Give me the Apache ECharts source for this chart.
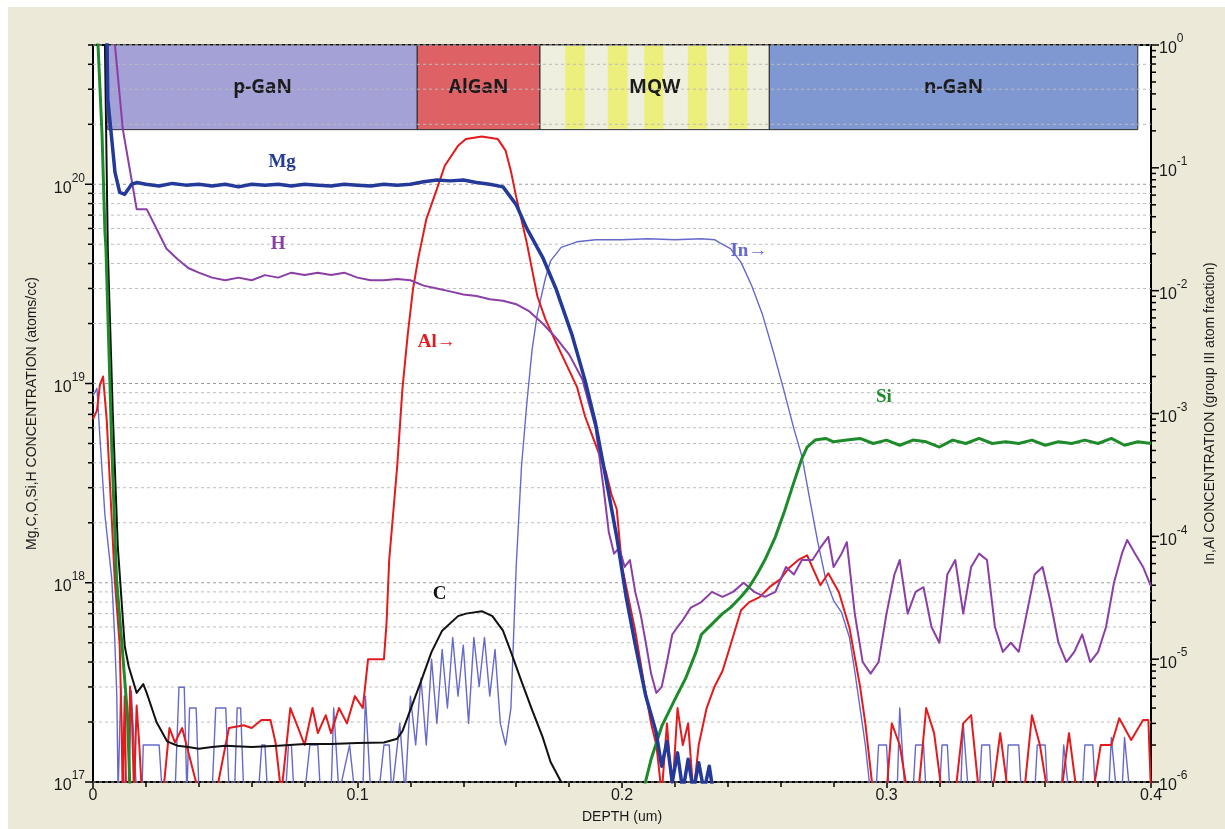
<!DOCTYPE html>
<html><head><meta charset="utf-8">
<script src="https://cdn.jsdelivr.net/npm/echarts@6/dist/echarts.min.js"></script>
<style>
html,body{margin:0;padding:0;background:#ffffff;width:1225px;height:829px;overflow:hidden;}
#c{position:absolute;left:8px;top:7px;width:1217px;height:822px;}
</style></head><body><div id="c"></div>
<script>
// ---------- data (depth in um, concentration) ----------
const xTickLabels = ['0','0.1','0.2','0.3','0.4'];
const layerNames  = ['p-GaN','AlGaN','MQW','n-GaN'];
const layerStart  = [0.0056, 0.1226, 0.1690, 0.2557];
const layerEnd    = [0.1226, 0.1690, 0.2557, 0.3950];
const mqwWellStart = [0.1785, 0.1946, 0.2084, 0.2249, 0.2403];
const mqwWellEnd   = [0.1859, 0.2021, 0.2156, 0.2320, 0.2474];

const mgData = [[0,3e21],[0.003,1.5e21],[0.0053,5e20],[0.0056,2.66e20],[0.0071,1.68e20],[0.0083,1.15e20],[0.0101,9.1e19],[0.012,8.9e19],[0.0146,1e20],[0.0165,1.02e20],[0.02,1.0e20],[0.025,0.98e20],[0.03,1.01e20],[0.035,0.99e20],[0.04,1.0e20],[0.045,0.98e20],[0.05,1.0e20],[0.055,0.97e20],[0.06,1.0e20],[0.065,0.99e20],[0.07,1.0e20],[0.075,0.98e20],[0.08,1.0e20],[0.085,0.99e20],[0.09,0.98e20],[0.095,1.0e20],[0.1,0.99e20],[0.105,0.98e20],[0.11,1.0e20],[0.115,0.99e20],[0.12,1.0e20],[0.125,1.03e20],[0.13,1.05e20],[0.135,1.04e20],[0.14,1.05e20],[0.145,1.02e20],[0.15,1.0e20],[0.155,9.7e19],[0.16,7.9e19],[0.164,6e19],[0.17,4.3e19],[0.175,3e19],[0.181,1.77e19],[0.186,1.04e19],[0.19,6.3e18],[0.194,3.3e18],[0.198,1.7e18],[0.2015,8.6e17],[0.205,4.9e17],[0.209,2.7e17],[0.2128,1.8e17],[0.215,1.2e17],[0.217,1.6e17],[0.219,1.0e17],[0.221,1.4e17],[0.223,0.9e17],[0.225,1.3e17],[0.227,0.9e17],[0.229,1.25e17],[0.231,0.9e17],[0.233,1.2e17],[0.235,0.8e17]];

const hData = [[0.0075,1e21],[0.0083,5e20],[0.0113,1.88e20],[0.015,9.8e19],[0.0165,7.5e19],[0.0203,7.5e19],[0.0278,4.75e19],[0.032,4.2e19],[0.036,3.8e19],[0.04,3.6e19],[0.045,3.4e19],[0.05,3.3e19],[0.055,3.4e19],[0.06,3.3e19],[0.065,3.5e19],[0.07,3.4e19],[0.075,3.6e19],[0.08,3.5e19],[0.085,3.6e19],[0.09,3.5e19],[0.095,3.6e19],[0.1,3.4e19],[0.105,3.3e19],[0.11,3.3e19],[0.115,3.35e19],[0.12,3.3e19],[0.125,3.1e19],[0.13,3.0e19],[0.135,2.9e19],[0.14,2.8e19],[0.145,2.75e19],[0.15,2.65e19],[0.155,2.6e19],[0.16,2.5e19],[0.165,2.3e19],[0.17,2.0e19],[0.175,1.7e19],[0.18,1.4e19],[0.185,1.05e19],[0.19,6e18],[0.193,3e18],[0.195,1.8e18],[0.197,1.4e18],[0.199,1.5e18],[0.201,1.2e18],[0.203,1.3e18],[0.205,9e17],[0.207,7e17],[0.209,5e17],[0.211,3.5e17],[0.213,2.8e17],[0.215,3e17],[0.217,4e17],[0.219,5.5e17],[0.221,6e17],[0.223,6.5e17],[0.226,7.5e17],[0.23,8e17],[0.234,9e17],[0.238,8.5e17],[0.242,9e17],[0.246,1e18],[0.25,9e17],[0.254,8.5e17],[0.258,9e17],[0.262,1.2e18],[0.265,1.1e18],[0.268,1.3e18],[0.272,1.3e18],[0.275,1.5e18],[0.278,1.7e18],[0.28,1.2e18],[0.283,1.4e18],[0.285,1.6e18],[0.288,7e17],[0.291,4e17],[0.294,3.5e17],[0.297,4e17],[0.3,7e17],[0.303,1.1e18],[0.305,1.3e18],[0.308,7e17],[0.311,9e17],[0.314,9.5e17],[0.317,6e17],[0.32,5e17],[0.323,1.1e18],[0.326,1.3e18],[0.329,7e17],[0.332,1.2e18],[0.335,1.4e18],[0.338,1.3e18],[0.341,6e17],[0.344,4.5e17],[0.347,5e17],[0.35,4.5e17],[0.353,7e17],[0.356,1.1e18],[0.359,1.2e18],[0.362,8e17],[0.365,5e17],[0.368,4e17],[0.371,4.5e17],[0.374,5.5e17],[0.377,4e17],[0.38,4.5e17],[0.383,6e17],[0.386,1e18],[0.389,1.4e18],[0.391,1.64e18],[0.394,1.4e18],[0.397,1.2e18],[0.4,9.6e17]];

const siData = [[0,3e21],[0.0019,5e20],[0.0034,1.8e20],[0.0045,5.8e19],[0.0049,4.75e19],[0.0071,4.8e18],[0.0089,1.04e18],[0.011,4.8e17],[0.013,2.2e17],[0.0139,1e17],[0.015,7e16],[0.1,5e16],[0.208,9e16],[0.211,1.3e17],[0.215,1.9e17],[0.22,2.6e17],[0.224,3.3e17],[0.228,4.5e17],[0.23,5.5e17],[0.234,6.2e17],[0.238,7e17],[0.241,7.5e17],[0.245,8.5e17],[0.248,9.5e17],[0.251,1.1e18],[0.254,1.3e18],[0.258,1.7e18],[0.2615,2.3e18],[0.265,3.2e18],[0.268,4.2e18],[0.27,4.8e18],[0.273,5.2e18],[0.277,5.3e18],[0.28,5.1e18],[0.285,5.2e18],[0.29,5.3e18],[0.295,5.0e18],[0.3,5.2e18],[0.305,4.9e18],[0.31,5.2e18],[0.315,5.1e18],[0.32,4.8e18],[0.325,5.2e18],[0.33,5.0e18],[0.335,5.3e18],[0.34,5.0e18],[0.345,5.1e18],[0.35,5.0e18],[0.355,5.2e18],[0.36,4.9e18],[0.365,5.1e18],[0.37,5.0e18],[0.375,5.2e18],[0.38,5.0e18],[0.385,5.3e18],[0.39,4.9e18],[0.395,5.1e18],[0.4,5.0e18]];

const cData = [[0,3e21],[0.0045,5e20],[0.0056,4.75e19],[0.0075,7e18],[0.0094,1.5e18],[0.012,4.8e17],[0.0135,3.8e17],[0.0165,2.8e17],[0.019,3.1e17],[0.0203,2.8e17],[0.024,2e17],[0.028,1.6e17],[0.032,1.52e17],[0.036,1.5e17],[0.04,1.47e17],[0.045,1.5e17],[0.05,1.52e17],[0.06,1.5e17],[0.07,1.52e17],[0.08,1.55e17],[0.09,1.55e17],[0.1,1.57e17],[0.11,1.58e17],[0.115,1.65e17],[0.117,1.8e17],[0.121,2.5e17],[0.124,3.2e17],[0.128,4.5e17],[0.132,5.75e17],[0.138,6.8e17],[0.141,7e17],[0.147,7.2e17],[0.151,6.8e17],[0.155,5.75e17],[0.158,4.5e17],[0.162,3.2e17],[0.166,2.3e17],[0.17,1.68e17],[0.173,1.26e17],[0.177,1e17],[0.18,8e16]];

const alData = [[0,9e-4],[0.0015,1.06e-3],[0.0026,1.7e-3],[0.0038,2.0e-3],[0.0052,8.8e-4],[0.007,1.5e-4],[0.0082,4.5e-5],[0.0101,1.3e-5],[0.0108,3e-6],[0.0112,8e-7],[0.012,5e-6],[0.0125,8e-7],[0.0135,8e-7],[0.014,6e-6],[0.0148,3e-6],[0.0155,8e-7],[0.0165,4.2e-6],[0.0175,2e-6],[0.0185,8e-7],[0.0265,8e-7],[0.0289,2.75e-6],[0.031,2.1e-6],[0.0337,2.75e-6],[0.0401,8e-7],[0.0465,8e-7],[0.0514,2.75e-6],[0.057,2.9e-6],[0.06,2.75e-6],[0.0637,3.2e-6],[0.0671,3.2e-6],[0.069,2.1e-6],[0.0712,8e-7],[0.0746,4e-6],[0.0776,2.75e-6],[0.08,2e-6],[0.083,4e-6],[0.085,2.5e-6],[0.088,3.5e-6],[0.09,2.5e-6],[0.093,4e-6],[0.096,3e-6],[0.099,5e-6],[0.102,4e-6],[0.104,1e-5],[0.11,1e-5],[0.111,2e-5],[0.112,6.5e-5],[0.115,3.7e-4],[0.117,1.6e-3],[0.119,4.4e-3],[0.121,1.04e-2],[0.123,1.85e-2],[0.126,3.8e-2],[0.13,6.7e-2],[0.133,0.104],[0.138,0.151],[0.141,0.172],[0.147,0.18],[0.153,0.172],[0.156,0.138],[0.158,9.4e-2],[0.16,5.8e-2],[0.164,2.45e-2],[0.168,9e-3],[0.171,5.9e-3],[0.175,3.8e-3],[0.179,2.5e-3],[0.183,1.64e-3],[0.186,9.5e-4],[0.19,5.6e-4],[0.194,3.3e-4],[0.196,2.2e-4],[0.198,1.67e-4],[0.2,5.7e-5],[0.205,1.7e-5],[0.209,5.2e-6],[0.211,3e-6],[0.213,2e-6],[0.215,8e-7],[0.217,3e-6],[0.219,8e-7],[0.221,4e-6],[0.223,2e-6],[0.225,3e-6],[0.227,8e-7],[0.229,2e-6],[0.232,4e-6],[0.235,6e-6],[0.238,8e-6],[0.241,1.3e-5],[0.245,2.5e-5],[0.248,2.9e-5],[0.252,3.2e-5],[0.256,3.9e-5],[0.26,4.5e-5],[0.263,5.5e-5],[0.267,6.5e-5],[0.27,7e-5],[0.273,5e-5],[0.275,4e-5],[0.278,5e-5],[0.282,3.5e-5],[0.286,1.8e-5],[0.29,6e-6],[0.292,3e-6],[0.295,8e-7],[0.3,8e-7],[0.302,3e-6],[0.305,2e-6],[0.308,8e-7],[0.312,8e-7],[0.315,4e-6],[0.318,2.5e-6],[0.321,8e-7],[0.326,8e-7],[0.329,3e-6],[0.332,3.5e-6],[0.335,8e-7],[0.34,8e-7],[0.343,2.5e-6],[0.346,8e-7],[0.352,8e-7],[0.355,3.5e-6],[0.358,2e-6],[0.361,8e-7],[0.366,8e-7],[0.369,2.5e-6],[0.372,8e-7],[0.378,8e-7],[0.381,2e-6],[0.385,2e-6],[0.388,3.3e-6],[0.3925,2.2e-6],[0.397,3.2e-6],[0.399,3.2e-6],[0.4,8e-7]];

const inData = [[0,1.4e-3],[0.0015,1.6e-3],[0.0025,7e-4],[0.0045,1.5e-4],[0.0071,4.5e-5],[0.0082,1.5e-5],[0.009,5e-6],[0.0095,8e-7],[0.0105,6e-6],[0.011,2e-6],[0.012,8e-7],[0.0135,8e-7],[0.0145,5.5e-6],[0.0155,2e-6],[0.0165,8e-7],[0.0185,8e-7],[0.019,2e-6],[0.025,2e-6],[0.0262,8e-7],[0.031,8e-7],[0.0325,5.9e-6],[0.0345,5.9e-6],[0.0355,8e-7],[0.0365,4e-6],[0.039,4e-6],[0.0401,8e-7],[0.045,8e-7],[0.0464,4e-6],[0.0502,4e-6],[0.0515,8e-7],[0.0535,8e-7],[0.0545,4e-6],[0.0558,4e-6],[0.057,8e-7],[0.0625,8e-7],[0.0638,2e-6],[0.065,2e-6],[0.066,8e-7],[0.0728,8e-7],[0.0739,2e-6],[0.075,2e-6],[0.076,8e-7],[0.08,8e-7],[0.082,2e-6],[0.085,2e-6],[0.086,8e-7],[0.09,8e-7],[0.091,4e-6],[0.093,8e-7],[0.097,2e-6],[0.099,8e-7],[0.102,8e-7],[0.103,5e-6],[0.105,8e-7],[0.108,8e-7],[0.11,2e-6],[0.112,2e-6],[0.113,8e-7],[0.116,3e-6],[0.118,8e-7],[0.12,5e-6],[0.122,2e-6],[0.124,7e-6],[0.126,2e-6],[0.128,1e-5],[0.13,3e-6],[0.132,1.2e-5],[0.134,4e-6],[0.136,1.5e-5],[0.138,5e-6],[0.14,1.3e-5],[0.142,3e-6],[0.144,1.5e-5],[0.146,6e-6],[0.148,1.5e-5],[0.15,5e-6],[0.152,1.2e-5],[0.154,3e-6],[0.156,2e-6],[0.158,4e-6],[0.16,5.7e-5],[0.162,3.7e-4],[0.164,1.2e-3],[0.166,3.3e-3],[0.168,6.5e-3],[0.171,1.25e-2],[0.173,1.75e-2],[0.177,2.25e-2],[0.183,2.5e-2],[0.19,2.6e-2],[0.2,2.6e-2],[0.21,2.65e-2],[0.22,2.6e-2],[0.23,2.65e-2],[0.235,2.6e-2],[0.237,2.45e-2],[0.241,2.2e-2],[0.245,1.7e-2],[0.249,1.1e-2],[0.253,6.5e-3],[0.257,3.3e-3],[0.261,1.6e-3],[0.265,7.5e-4],[0.268,4.5e-4],[0.271,2e-4],[0.274,9e-5],[0.277,4.5e-5],[0.28,3e-5],[0.283,2.4e-5],[0.286,1.5e-5],[0.288,8e-6],[0.29,4e-6],[0.292,2e-6],[0.294,8e-7],[0.296,8e-7],[0.297,2e-6],[0.3,2e-6],[0.301,8e-7],[0.304,8e-7],[0.305,4e-6],[0.307,8e-7],[0.31,8e-7],[0.311,2e-6],[0.314,2e-6],[0.315,8e-7],[0.32,8e-7],[0.321,2e-6],[0.323,2e-6],[0.324,8e-7],[0.328,8e-7],[0.329,3e-6],[0.331,8e-7],[0.335,8e-7],[0.336,2e-6],[0.339,2e-6],[0.34,8e-7],[0.345,8e-7],[0.346,2e-6],[0.35,2e-6],[0.351,8e-7],[0.356,8e-7],[0.357,2e-6],[0.36,2e-6],[0.361,8e-7],[0.366,8e-7],[0.367,2e-6],[0.369,8e-7],[0.374,8e-7],[0.375,2e-6],[0.378,2e-6],[0.379,8e-7],[0.384,8e-7],[0.385,2.3e-6],[0.387,8e-7],[0.389,8e-7],[0.39,2.3e-6],[0.392,8e-7],[0.4,8e-7]];

// curve labels: text, depth, left-axis value
const curveLabelText  = ['Mg','H','Al\u2192','In\u2192','Si','C'];
const curveLabelDepth = [0.0715, 0.070, 0.130, 0.248, 0.299, 0.131];
const curveLabelValue = [1.29e20, 5.0e19, 1.62e19, 4.6e19, 8.5e18, 8.8e17];

// ---------- chart ----------
const L_MIN = 1e17, L_MAX = 5e20, R_MIN = 1e-6, R_MAX = 1;
const BAND_BOTTOM = 1.88e20;
const layerColors = ['#A3A1D5','#DE6165','#EEEFDF','#8098D2'];
const wellColor = '#EDEF7C';
const curveColors = ['#233A9A','#8B3FA6','#E41A1C','#6569CB','#1E8B2A','#111111'];
const FONT = '"Liberation Sans", Arial, sans-serif';

function supFmt(v){
  const lg = Math.log10(v), e = Math.round(lg);
  if (Math.abs(lg - e) > 1e-6) return '';
  return '{b|10}{s|' + e + '}';
}
const supRich = {
  b:{fontSize:16, fontFamily:FONT, color:'#1a1a1a', lineHeight:24, verticalAlign:'bottom'},
  s:{fontSize:12, fontFamily:FONT, color:'#1a1a1a', lineHeight:12, verticalAlign:'top'}
};

const leftTicks = [];
for (let d = 17; d <= 20; d++) for (let m = 1; m <= 9; m++) {
  const v = m * Math.pow(10, d);
  if (v >= L_MIN * 0.999 && v <= L_MAX * 1.001) leftTicks.push([m === 1 ? 1 : 0, v]);
}
const rightTicks = [];
for (let d = -6; d <= 0; d++) for (let m = 1; m <= 9; m++) {
  const v = m * Math.pow(10, d);
  if (v >= R_MIN * 0.999 && v <= R_MAX * 1.001) rightTicks.push([m === 1 ? 1 : 0, v]);
}

const chart = echarts.init(document.getElementById('c'), null, {renderer:'canvas'});
const lineSeries = (name, data, color, width, yIdx, z) => ({
  type:'line', name, data, xAxisIndex:0, yAxisIndex:yIdx, showSymbol:false, symbol:'none',
  lineStyle:{color, width, join:'round'}, clip:true, z, animation:false
});

chart.setOption({
  backgroundColor:'#ECE9D8',
  animation:false,
  grid:{left:85, right:65, top:38, bottom:42, show:true, backgroundColor:'#ffffff', borderColor:'#000', borderWidth:2, containLabel:false},
  xAxis:{
    type:'value', min:0, max:0.4, interval:0.1,
    name:'DEPTH (um)', nameLocation:'middle', nameGap:28,
    nameTextStyle:{fontFamily:FONT, fontSize:14, color:'#1a1a1a'},
    axisLine:{show:true, lineStyle:{color:'#000', width:2}},
    axisTick:{show:true, inside:false, length:6, lineStyle:{color:'#000', width:1.5}},
    minorTick:{show:true, splitNumber:5, length:5, lineStyle:{color:'#000', width:1.5}},
    splitLine:{show:false},
    axisLabel:{fontFamily:FONT, fontSize:16, color:'#1a1a1a', margin:6,
      formatter:(v)=>{const i=Math.round(v*10); return Math.abs(v*10-i)<1e-6 ? xTickLabels[i] : '';}}
  },
  yAxis:[{
    type:'log', logBase:10, min:L_MIN, max:L_MAX, position:'left',
    name:'Mg,C,O,Si,H CONCENTRATION (atoms/cc)', nameLocation:'middle', nameGap:54, nameRotate:90,
    nameTextStyle:{fontFamily:FONT, fontSize:14, color:'#1a1a1a'},
    axisLine:{show:true, lineStyle:{color:'#000', width:2}},
    axisTick:{show:false}, splitLine:{show:false},
    axisLabel:{formatter:supFmt, rich:supRich, margin:8}
  },{
    type:'log', logBase:10, min:R_MIN, max:R_MAX, position:'right',
    name:'In,Al CONCENTRATION (group III atom fraction)', nameLocation:'middle', nameGap:52, nameRotate:90,
    nameTextStyle:{fontFamily:FONT, fontSize:14, color:'#1a1a1a'},
    axisLine:{show:true, lineStyle:{color:'#000', width:2}},
    axisTick:{show:false}, splitLine:{show:false},
    axisLabel:{formatter:supFmt, rich:supRich, margin:8}
  }],
  series:[
    { // layer band
      type:'custom', xAxisIndex:0, yAxisIndex:0, z:1, silent:true,
      data: layerNames.map((n,i)=>[layerStart[i], layerEnd[i], i]),
      renderItem:(params, api)=>{
        const i = api.value(2);
        const p0 = api.coord([api.value(0), L_MAX]);
        const p1 = api.coord([api.value(1), BAND_BOTTOM]);
        const kids = [{type:'rect', shape:{x:p0[0], y:p0[1], width:p1[0]-p0[0], height:p1[1]-p0[1]},
          style:{fill:layerColors[i], stroke:'#2a2a2a', lineWidth:1}}];
        if (layerNames[i] === 'MQW') {
          mqwWellStart.forEach((s,k)=>{
            const a = api.coord([s, L_MAX]), b = api.coord([mqwWellEnd[k], BAND_BOTTOM]);
            kids.push({type:'rect', shape:{x:a[0], y:a[1]+1, width:b[0]-a[0], height:b[1]-a[1]-2}, style:{fill:wellColor}});
          });
        }
        kids.push({type:'text', style:{text:layerNames[i], x:(p0[0]+p1[0])/2, y:(p0[1]+p1[1])/2,
          align:'center', verticalAlign:'middle', font:'bold 19px "Open Sans", sans-serif', fill:'#1b1b1b'}});
        return {type:'group', children:kids};
      }
    },
    { // dashed horizontal gridlines + left ticks
      type:'custom', xAxisIndex:0, yAxisIndex:0, z:2, silent:true, clip:false,
      data: leftTicks,
      renderItem:(params, api)=>{
        const major = api.value(0) === 1;
        const a = api.coord([0, api.value(1)]), b = api.coord([0.4, api.value(1)]);
        return {type:'group', children:[
          {type:'line', shape:{x1:a[0], y1:a[1], x2:b[0], y2:b[1]}, style:{stroke: major ? '#9a9a9a' : '#bdbdbd', lineWidth:1, lineDash:[3,3]}},
          {type:'line', shape:{x1:a[0]-(major?8:5), y1:a[1], x2:a[0], y2:a[1]}, style:{stroke:'#000', lineWidth:1.5}}
        ]};
      }
    },
    { // right ticks
      type:'custom', xAxisIndex:0, yAxisIndex:1, z:2, silent:true, clip:false,
      data: rightTicks,
      renderItem:(params, api)=>{
        const major = api.value(0) === 1;
        const b = api.coord([0.4, api.value(1)]);
        return {type:'line', shape:{x1:b[0], y1:b[1], x2:b[0]+(major?8:5), y2:b[1]}, style:{stroke:'#000', lineWidth:1.5}};
      }
    },
    lineSeries('In', inData, curveColors[3], 1.4, 1, 3),
    lineSeries('Al', alData, curveColors[2], 2, 1, 4),
    lineSeries('C', cData, curveColors[5], 2, 0, 5),
    lineSeries('H', hData, curveColors[1], 2, 0, 6),
    lineSeries('Si', siData, curveColors[4], 3, 0, 7),
    lineSeries('Mg', mgData, curveColors[0], 3.5, 0, 8),
    { // curve labels
      type:'custom', xAxisIndex:0, yAxisIndex:0, z:10, silent:true,
      data: curveLabelText.map((t,i)=>[curveLabelDepth[i], curveLabelValue[i], i]),
      renderItem:(params, api)=>{
        const i = api.value(2);
        const p = api.coord([api.value(0), api.value(1)]);
        return {type:'text', style:{text:curveLabelText[i], x:p[0], y:p[1], align:'center', verticalAlign:'middle',
          font:'bold 19px "Liberation Serif", "Times New Roman", serif', fill:curveColors[i]}};
      }
    }
  ]
});
</script></body></html>
